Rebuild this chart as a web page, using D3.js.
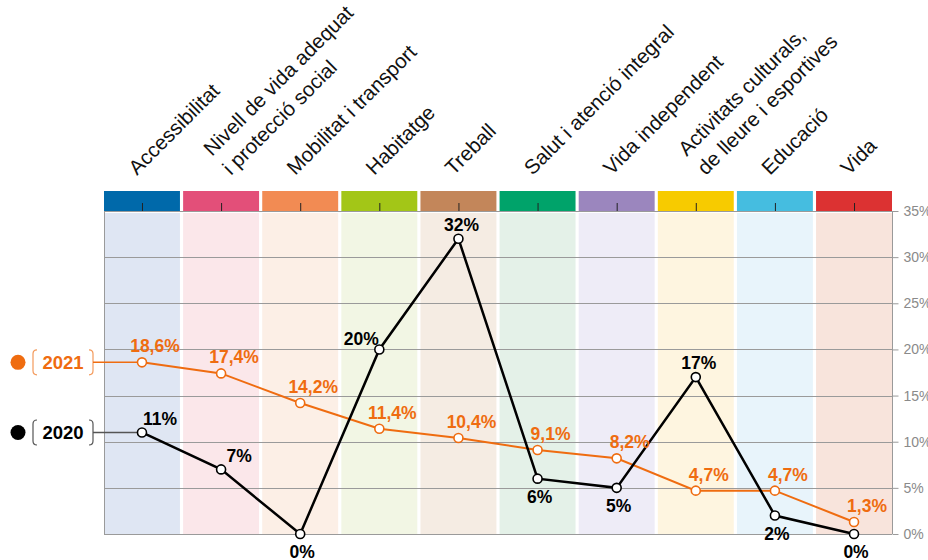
<!DOCTYPE html>
<html>
<head>
<meta charset="utf-8">
<script src="https://cdn.jsdelivr.net/npm/d3@7"></script>
<style>
  html, body { margin: 0; padding: 0; background: #fff; }
  svg { display: block; font-family: "Liberation Sans", Arial, Helvetica, sans-serif; }
</style>
</head>
<body>
<svg id="chart" width="928" height="560"></svg>
<script>
// ---- data ----
const categories = [
  ["Accessibilitat"],
  ["Nivell de vida adequat", "i protecció social"],
  ["Mobilitat i transport"],
  ["Habitatge"],
  ["Treball"],
  ["Salut i atenció integral"],
  ["Vida independent"],
  ["Activitats culturals,", "de lleure i esportives"],
  ["Educació"],
  ["Vida"]
];
const values2021 = [18.6, 17.4, 14.2, 11.4, 10.4, 9.1, 8.2, 4.7, 4.7, 1.3];
const values2020 = [11, 7, 0, 20, 32, 6, 5, 17, 2, 0];
const labelPlace2020 = ["right", "right", "below", "left", "above", "below", "below", "above", "below", "below"];
const yTicks = [0, 5, 10, 15, 20, 25, 30, 35];
const seriesNames = ["2021", "2020"];

const headerColors = ["#0069aa", "#e34f79", "#f28b53", "#a3c617", "#c3865a", "#00a36a", "#9b86be", "#f7cb00", "#45bde0", "#dc3232"];
const bgColors = ["#dfe6f3", "#fbe7ea", "#fcefe6", "#f2f6e4", "#f5ece3", "#e4f1e8", "#eeecf7", "#fef5e0", "#e8f4fb", "#f8e4dc"];

// ---- layout ----
const svg = d3.select("#chart");
const pLeft = 104, pRight = 892, pTop = 211, pBottom = 534, headerH = 20;
const orange = "#ef6c10";

const x = d3.scaleBand().domain(d3.range(categories.length)).range([pLeft, pRight]).paddingInner(0.04).paddingOuter(0);
const y = d3.scaleLinear().domain([0, 35]).range([pBottom, pTop]);
const cx = i => x(i) + x.bandwidth() / 2;

// backgrounds
svg.append("g").selectAll("rect").data(categories).join("rect")
  .attr("x", (d, i) => x(i)).attr("y", pTop + 2)
  .attr("width", x.bandwidth()).attr("height", pBottom - pTop - 2)
  .attr("fill", (d, i) => bgColors[i]);

// header bars
svg.append("g").selectAll("rect").data(categories).join("rect")
  .attr("x", (d, i) => x(i)).attr("y", pTop - headerH)
  .attr("width", x.bandwidth()).attr("height", headerH)
  .attr("fill", (d, i) => headerColors[i]);

// header ticks
svg.append("g").selectAll("line").data(categories).join("line")
  .attr("x1", (d, i) => cx(i) + 0.5).attr("x2", (d, i) => cx(i) + 0.5)
  .attr("y1", pTop - 8).attr("y2", pTop)
  .attr("stroke", "#222").attr("stroke-width", 1);

// gridlines
svg.append("g").selectAll("line").data(yTicks).join("line")
  .attr("x1", pLeft).attr("x2", pRight)
  .attr("y1", d => Math.round(y(d)) + 0.5).attr("y2", d => Math.round(y(d)) + 0.5)
  .attr("stroke", "#9a9a9a").attr("stroke-width", 1);

// left vertical line
svg.append("line")
  .attr("x1", pLeft + 0.5).attr("x2", pLeft + 0.5).attr("y1", pTop).attr("y2", pBottom)
  .attr("stroke", "#9a9a9a");

// right axis
const yAxis = d3.axisRight(y).tickValues(yTicks).tickFormat(d => d + "%").tickSize(6).tickPadding(5);
const ga = svg.append("g").attr("transform", `translate(${pRight + 0.5},0)`).call(yAxis);
ga.select(".domain").attr("stroke", "#9a9a9a").attr("d", `M0,${pTop}V${pBottom}`);
ga.selectAll(".tick line").attr("stroke", "#9a9a9a");
ga.selectAll(".tick text").attr("fill", "#8a8a8a").style("font-size", "14px")
  .style("font-family", "'Liberation Sans', Arial, sans-serif");

// category labels
const catG = svg.append("g");
categories.forEach((lines, i) => {
  const n = lines.length;
  const shift = n > 1 ? 10.6 : 0;
  const t = catG.append("text")
    .attr("transform", `translate(${cx(i) - 5},176) rotate(-45)`)
    .attr("font-size", 20.5).attr("fill", "#111");
  lines.forEach((ln, k) => {
    t.append("tspan").attr("x", shift).attr("y", shift - (n - 1 - k) * 27).text(ln);
  });
});

// lines
const line = d3.line().x((d, i) => cx(i)).y(d => y(d));

// legend
function legend(name, v, color, bracketColor, connColor) {
  const ly = y(v);
  const g = svg.append("g");
  g.append("circle").attr("cx", 18).attr("cy", ly).attr("r", 7.5).attr("fill", color);
  const bt = ly - 12.5, bb = ly + 12.5;
  g.append("path")
    .attr("d", `M37,${bt} Q33,${bt} 33,${bt + 4} L33,${bb - 4} Q33,${bb} 37,${bb} M89,${bt} Q93,${bt} 93,${bt + 4} L93,${bb - 4} Q93,${bb} 89,${bb}`)
    .attr("fill", "none").attr("stroke", bracketColor).attr("stroke-width", 1.2);
  g.append("text").attr("x", 63).attr("y", ly + 6.5).attr("text-anchor", "middle")
    .attr("font-size", 18.5).attr("font-weight", "bold").attr("fill", color).text(name);
  g.append("line").attr("x1", 93).attr("x2", cx(0)).attr("y1", ly).attr("y2", ly)
    .attr("stroke", connColor).attr("stroke-width", 1.5);
}
legend(seriesNames[0], values2021[0], orange, "#f39a5c", orange);
legend(seriesNames[1], values2020[0], "#000", "#555", "#555");

svg.append("path").datum(values2021).attr("d", line)
  .attr("fill", "none").attr("stroke", orange).attr("stroke-width", 2);
svg.append("path").datum(values2020).attr("d", line)
  .attr("fill", "none").attr("stroke", "#000").attr("stroke-width", 2.5);

svg.append("g").selectAll("circle").data(values2021).join("circle")
  .attr("cx", (d, i) => cx(i)).attr("cy", d => y(d)).attr("r", 4.5)
  .attr("fill", "#fff").attr("stroke", orange).attr("stroke-width", 1.6);
svg.append("g").selectAll("circle").data(values2020).join("circle")
  .attr("cx", (d, i) => cx(i)).attr("cy", d => y(d)).attr("r", 4.5)
  .attr("fill", "#fff").attr("stroke", "#000").attr("stroke-width", 1.6);

// value labels
const fmt = v => v.toFixed(1).replace(".", ",") + "%";
svg.append("g").selectAll("text").data(values2021).join("text")
  .attr("x", (d, i) => cx(i) + 13).attr("y", d => y(d) - 10)
  .attr("text-anchor", "middle").attr("font-size", 17.5).attr("font-weight", "bold")
  .attr("fill", orange).text(d => fmt(d));

const place = {
  right: [18, -7],
  left: [-18, -4],
  above: [3, -8],
  below: [2, 24]
};
svg.append("g").selectAll("text").data(values2020).join("text")
  .attr("x", (d, i) => cx(i) + place[labelPlace2020[i]][0])
  .attr("y", (d, i) => y(d) + place[labelPlace2020[i]][1])
  .attr("text-anchor", "middle").attr("font-size", 17.5).attr("font-weight", "bold")
  .attr("fill", "#000").text(d => d + "%");
</script>
</body>
</html>
